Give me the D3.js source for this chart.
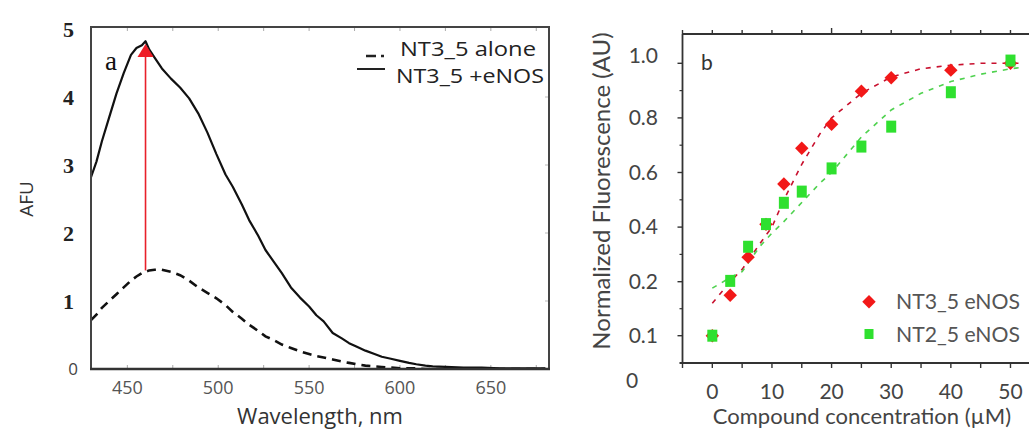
<!DOCTYPE html>
<html>
<head>
<meta charset="utf-8">
<script src="https://cdn.jsdelivr.net/npm/d3@7"></script>
<style>
  body { margin: 0; background: #fff; }
  svg { display: block; }
</style>
</head>
<body>
<svg id="chart" width="1029" height="431"></svg>
<script>
// ---- panel a: emission spectra ----
var wavelength = [430, 433, 436, 440, 444, 448, 452, 455, 458, 460, 462, 465, 469, 474, 479, 484, 489, 494, 499, 504, 508, 513, 517, 522, 526, 531, 535, 540, 545, 550, 554, 558, 563, 568, 572, 576, 581, 586, 590, 595, 600, 605, 609, 614, 618, 625, 635, 645, 655, 665, 680];
var withEnos = [2.82, 3.05, 3.35, 3.7, 4.05, 4.35, 4.62, 4.72, 4.76, 4.82, 4.7, 4.58, 4.42, 4.27, 4.14, 3.98, 3.76, 3.48, 3.16, 2.86, 2.68, 2.42, 2.19, 1.96, 1.75, 1.56, 1.41, 1.2, 1.05, 0.92, 0.79, 0.7, 0.53, 0.45, 0.38, 0.33, 0.27, 0.22, 0.18, 0.15, 0.12, 0.09, 0.07, 0.05, 0.04, 0.03, 0.02, 0.02, 0.01, 0.01, 0.01];
var alone = [0.72, 0.8, 0.9, 1.0, 1.1, 1.2, 1.3, 1.36, 1.41, 1.43, 1.45, 1.46, 1.46, 1.43, 1.38, 1.3, 1.2, 1.12, 1.04, 0.94, 0.84, 0.74, 0.65, 0.56, 0.48, 0.42, 0.36, 0.31, 0.26, 0.22, 0.19, 0.17, 0.14, 0.11, 0.09, 0.07, 0.05, 0.04, 0.03, 0.02, 0.01, 0.01, 0.01, 0, 0, 0, 0, 0, 0, 0, 0];
var arrowAt = 460, arrowFrom = 1.45, arrowTo = 4.78;
var aTicksY = [0, 1, 2, 3, 4, 5];
var aTicksX = [450, 500, 550, 600, 650];
var aMinorX = [450, 475, 500, 525, 550, 575, 600, 625, 650, 675];
var aLegend = ["NT3_5 alone", "NT3_5 +eNOS"];

// ---- panel b: binding curves ----
var conc = [0, 3, 6, 9, 12, 15, 20, 25, 30, 40, 50];
var nt3 = [0.1, 0.175, 0.29, 0.41, 0.558, 0.689, 0.777, 0.898, 0.947, 0.975, 1.0];
var nt2 = [0.1, 0.203, 0.328, 0.411, 0.489, 0.53, 0.615, 0.695, 0.768, 0.894, 1.01];
var fitConc = [0, 3, 5, 8, 10, 12, 15, 18, 20, 25, 30, 35, 40, 45, 50, 52];
var nt3Fit = [0.16, 0.2, 0.245, 0.34, 0.4, 0.5, 0.63, 0.74, 0.8, 0.89, 0.95, 0.98, 0.993, 1.0, 1.0, 1.0];
var nt2Fit = [0.188, 0.215, 0.237, 0.33, 0.378, 0.42, 0.49, 0.56, 0.6, 0.73, 0.829, 0.89, 0.933, 0.96, 0.98, 0.985];
var bTicksY = [1.0, 0.8, 0.6, 0.4, 0.2, 0.1, 0];
var bTickLabels = ["1.0", "0.8", "0.6", "0.4", "0.2", "0.1", "0"];
var bMinorY = [0.9, 0.7, 0.5, 0.3, 0.15];
var bTicksX = [0, 10, 20, 30, 40, 50];
var bMinorX = [-5, 0, 5, 10, 15, 20, 25, 30, 35, 40, 45, 50];
var seriesNames = ["NT3_5 eNOS", "NT2_5 eNOS"];

var svg = d3.select("#chart");
svg.append("rect").attr("width", 1029).attr("height", 431).attr("fill", "#fff");

// ================= panel a =================
var xa = d3.scaleLinear().domain([430, 682]).range([91, 549]);
var ya = d3.scaleLinear().domain([0, 5]).range([369, 29]);
var ga = svg.append("g");

ga.append("defs").append("clipPath").attr("id", "clipA")
  .append("rect").attr("x", 91).attr("y", 20).attr("width", 458).attr("height", 349);

// inner ticks
ga.selectAll(".tt").data(aMinorX).enter().append("line")
  .attr("x1", d => xa(d)).attr("x2", d => xa(d))
  .attr("y1", 27).attr("y2", 31).attr("stroke", "#aaa").attr("stroke-width", 1);
ga.selectAll(".bt").data(aMinorX).enter().append("line")
  .attr("x1", d => xa(d)).attr("x2", d => xa(d))
  .attr("y1", 369).attr("y2", 365).attr("stroke", "#aaa").attr("stroke-width", 1);
ga.selectAll(".rt").data([1, 2, 3, 4]).enter().append("line")
  .attr("x1", 549).attr("x2", 545)
  .attr("y1", d => ya(d)).attr("y2", d => ya(d)).attr("stroke", "#bbb").attr("stroke-width", 1);

var lineA = d3.line().x((d, i) => xa(wavelength[i])).y(d => ya(d)).curve(d3.curveLinear);

ga.append("path").datum(alone).attr("d", lineA).attr("clip-path", "url(#clipA)")
  .attr("fill", "none").attr("stroke", "#111").attr("stroke-width", 2.6)
  .attr("stroke-dasharray", "9,6");
ga.append("path").datum(withEnos).attr("d", lineA).attr("clip-path", "url(#clipA)")
  .attr("fill", "none").attr("stroke", "#111").attr("stroke-width", 2.2)
  .attr("stroke-linejoin", "round");

// red arrow
ga.append("line")
  .attr("x1", xa(arrowAt)).attr("x2", xa(arrowAt))
  .attr("y1", ya(arrowFrom)).attr("y2", ya(arrowTo) + 10)
  .attr("stroke", "#e8202a").attr("stroke-width", 1.6);
ga.append("path")
  .attr("d", "M" + (xa(arrowAt) - 8) + "," + (ya(arrowTo) + 13) + "L" + xa(arrowAt) + "," + ya(arrowTo) + "L" + (xa(arrowAt) + 8) + "," + (ya(arrowTo) + 13) + "Z")
  .attr("fill", "#ee1c25");

// frame
ga.append("rect").attr("x", 91).attr("y", 27).attr("width", 458).attr("height", 342)
  .attr("fill", "none").attr("stroke", "#444").attr("stroke-width", 2);
ga.append("line").attr("x1", 90).attr("x2", 550).attr("y1", 369).attr("y2", 369)
  .attr("stroke", "#333").attr("stroke-width", 2.6);

// y tick labels
ga.selectAll(".yl").data(aTicksY).enter().append("text")
  .attr("x", d => d === 0 ? 78 : 74).attr("y", d => ya(d) + (d === 0 ? 6 : 8))
  .attr("text-anchor", "end")
  .attr("font-family", d => d === 0 ? "Open Sans, sans-serif" : "Liberation Serif, serif")
  .attr("font-weight", d => d === 0 ? "normal" : "bold")
  .attr("font-size", d => d === 0 ? 17 : 22)
  .attr("fill", d => d === 0 ? "#444" : "#222")
  .text(d => d);

// x tick labels
ga.selectAll(".xl").data(aTicksX).enter().append("text")
  .attr("x", d => xa(d)).attr("y", 394)
  .attr("text-anchor", "middle")
  .attr("font-family", "Open Sans, sans-serif").attr("font-size", 18)
  .attr("fill", "#555").text(d => d);

ga.append("text").attr("x", 320).attr("y", 424).attr("text-anchor", "middle")
  .attr("font-family", "Open Sans, sans-serif").attr("font-size", 22)
  .attr("fill", "#333").text("Wavelength, nm");

ga.append("text").attr("transform", "translate(33,199) rotate(-90)")
  .attr("text-anchor", "middle")
  .attr("font-family", "Open Sans, sans-serif").attr("font-size", 19)
  .attr("fill", "#333").text("AFU");

ga.append("text").attr("x", 105).attr("y", 70)
  .attr("font-family", "Liberation Serif, serif").attr("font-size", 27)
  .attr("fill", "#111").text("a");

// legend
ga.append("line").attr("x1", 366).attr("x2", 390).attr("y1", 56).attr("y2", 56)
  .attr("stroke", "#222").attr("stroke-width", 2.4).attr("stroke-dasharray", "10,5,3,20");
ga.append("line").attr("x1", 357).attr("x2", 385).attr("y1", 69).attr("y2", 69)
  .attr("stroke", "#222").attr("stroke-width", 2);
ga.selectAll(".alg").data(aLegend).enter().append("text")
  .attr("x", (d, i) => i === 0 ? 400 : 396).attr("y", (d, i) => i === 0 ? 56 : 83)
  .attr("textLength", (d, i) => i === 0 ? 136 : 148).attr("lengthAdjust", "spacingAndGlyphs")
  .attr("font-family", "Open Sans, sans-serif").attr("font-size", 19.5)
  .attr("fill", "#222").text(d => d);

// ================= panel b =================
var xb = d3.scaleLinear().domain([-5, 55]).range([682.5, 1040.3]);
var yb = d3.scaleLinear().domain([0, 0.1, 0.2, 1.0]).range([381, 335.7, 281.7, 63.3]);
var gb = svg.append("g");
var boxTop = 34, boxBottom = 363, boxLeft = 682.5;

gb.append("defs").append("clipPath").attr("id", "clipB")
  .append("rect").attr("x", boxLeft).attr("y", boxTop).attr("width", 360).attr("height", boxBottom - boxTop);

// fit lines
var lineB = d3.line().x((d, i) => xb(fitConc[i])).y(d => yb(d));
gb.append("path").datum(nt3Fit).attr("d", lineB).attr("clip-path", "url(#clipB)")
  .attr("fill", "none").attr("stroke", "#c8102e").attr("stroke-width", 1.6)
  .attr("stroke-dasharray", "5,6");
gb.append("path").datum(nt2Fit).attr("d", lineB).attr("clip-path", "url(#clipB)")
  .attr("fill", "none").attr("stroke", "#4fd24f").attr("stroke-width", 1.6)
  .attr("stroke-dasharray", "5,6");

// markers
var diamond = d3.symbol().type(d3.symbolDiamond2).size(115);
gb.selectAll(".p3").data(nt3).enter().append("path")
  .attr("transform", (d, i) => "translate(" + xb(conc[i]) + "," + yb(d) + ")")
  .attr("d", diamond).attr("fill", "#f21818");
gb.selectAll(".p2").data(nt2).enter().append("rect")
  .attr("x", (d, i) => xb(conc[i]) - 5).attr("y", d => yb(d) - 6)
  .attr("width", 10).attr("height", 12).attr("fill", "#2fe02f");

// frame
gb.append("line").attr("x1", boxLeft).attr("x2", 1029).attr("y1", boxTop).attr("y2", boxTop)
  .attr("stroke", "#333").attr("stroke-width", 1.8);
gb.append("line").attr("x1", boxLeft - 3).attr("x2", 1029).attr("y1", boxBottom).attr("y2", boxBottom)
  .attr("stroke", "#333").attr("stroke-width", 1.8);
gb.append("line").attr("x1", boxLeft).attr("x2", boxLeft).attr("y1", boxTop).attr("y2", boxBottom)
  .attr("stroke", "#333").attr("stroke-width", 1.8);

// axis ticks
gb.selectAll(".bxt").data(bMinorX).enter().append("line")
  .attr("x1", d => xb(d)).attr("x2", d => xb(d))
  .attr("y1", boxBottom).attr("y2", boxBottom + 5).attr("stroke", "#333").attr("stroke-width", 1.4);
gb.selectAll(".txt").data(bMinorX).enter().append("line")
  .attr("x1", d => xb(d)).attr("x2", d => xb(d))
  .attr("y1", boxTop).attr("y2", d => boxTop - (d === 20 ? 6 : 4)).attr("stroke", "#333").attr("stroke-width", 1.4);
gb.selectAll(".yt").data(bTicksY.filter(d => d > 0)).enter().append("line")
  .attr("x1", boxLeft).attr("x2", boxLeft - 5)
  .attr("y1", d => yb(d)).attr("y2", d => yb(d)).attr("stroke", "#333").attr("stroke-width", 1.4);
gb.selectAll(".ymt").data(bMinorY).enter().append("line")
  .attr("x1", boxLeft).attr("x2", boxLeft - 3)
  .attr("y1", d => yb(d)).attr("y2", d => yb(d)).attr("stroke", "#333").attr("stroke-width", 1.2);

// tick labels ("1.0" sits a little above its tick in the original)
gb.selectAll(".byl").data(bTicksY).enter().append("text")
  .attr("x", d => d === 0 ? 632 : 658).attr("y", d => yb(d) + (d === 1 ? 0 : 7))
  .attr("text-anchor", d => d === 0 ? "middle" : "end")
  .attr("font-family", "Lato, sans-serif").attr("font-size", 21)
  .attr("fill", "#444").text((d, i) => bTickLabels[i]);
gb.selectAll(".bxl").data(bTicksX).enter().append("text")
  .attr("x", d => xb(d)).attr("y", 399)
  .attr("text-anchor", "middle")
  .attr("font-family", "Lato, sans-serif").attr("font-size", 21)
  .attr("fill", "#444").text(d => d);

gb.append("text").attr("x", 862).attr("y", 424).attr("text-anchor", "middle")
  .attr("font-family", "Lato, sans-serif").attr("font-size", 22)
  .attr("fill", "#444").text("Compound concentration (µM)");
gb.append("text").attr("transform", "translate(610,191) rotate(-90)")
  .attr("text-anchor", "middle")
  .attr("font-family", "Lato, sans-serif").attr("font-size", 24)
  .attr("fill", "#444").text("Normalized Fluorescence (AU)");
gb.append("text").attr("x", 701).attr("y", 70)
  .attr("font-family", "Lato, sans-serif").attr("font-size", 21)
  .attr("fill", "#333").text("b");

// legend
gb.append("path").attr("transform", "translate(869,301.7)").attr("d", diamond).attr("fill", "#f21818");
gb.append("rect").attr("x", 864.5).attr("y", 329).attr("width", 9).attr("height", 10).attr("fill", "#2fe02f");
gb.selectAll(".lg").data(seriesNames).enter().append("text")
  .attr("x", 896).attr("y", (d, i) => 309 + i * 33)
  .attr("textLength", 124).attr("lengthAdjust", "spacingAndGlyphs")
  .attr("font-family", "Lato, sans-serif").attr("font-size", 22)
  .attr("fill", "#555").text(d => d);
</script>
</body>
</html>
